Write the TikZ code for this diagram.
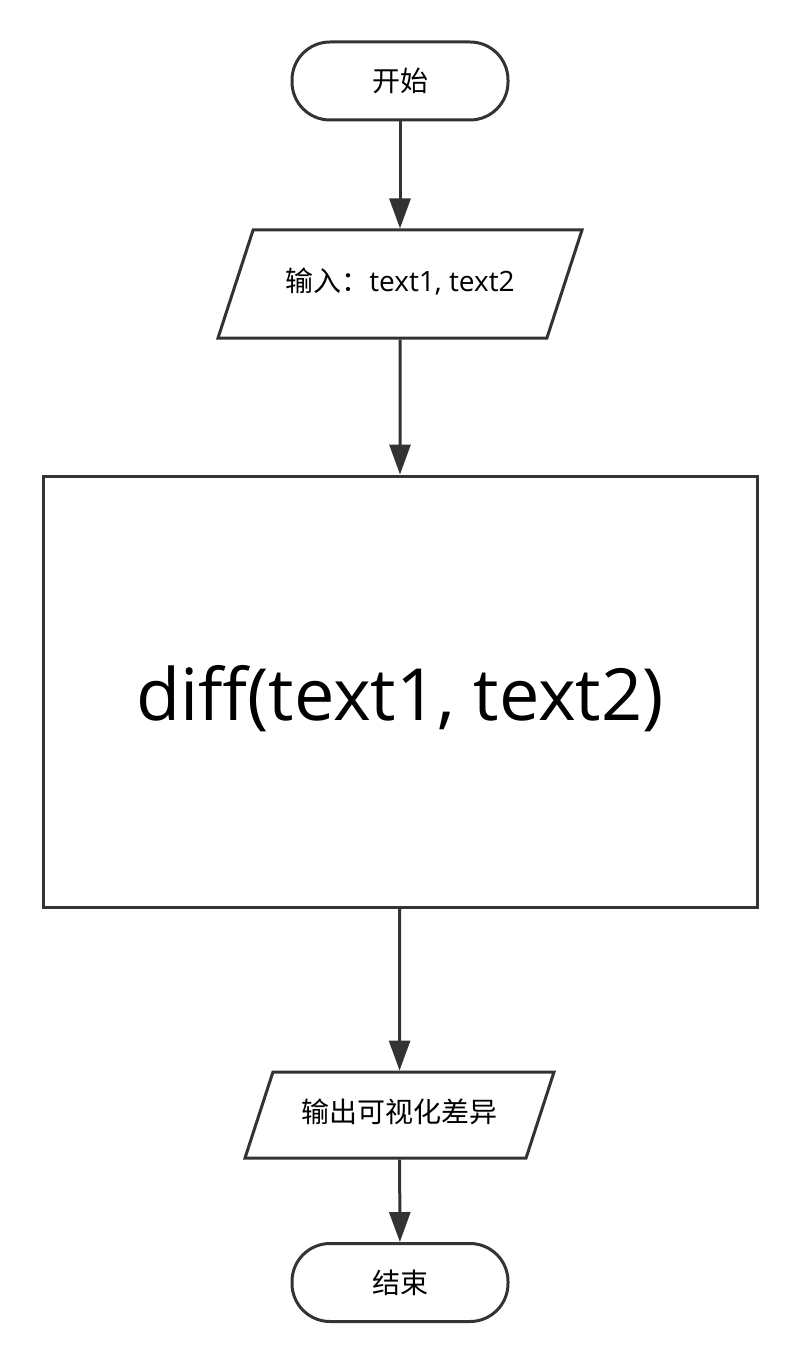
\documentclass[tikz,border=0pt]{standalone}
\usepackage{fontspec}
\setmainfont{Open Sans}
\newfontfamily\cjk{Noto Sans CJK SC}
\usetikzlibrary{arrows.meta,shapes.geometric}
\definecolor{linegray}{HTML}{333333}
\begin{document}
\begin{tikzpicture}[x=1pt,y=1pt,
    terminal/.style = {draw=linegray, line width=3pt, rectangle, rounded corners=38pt,
      minimum width=216pt, minimum height=78pt, inner sep=0pt, font=\fontsize{28}{30}\selectfont\cjk},
    iobox/.style = {draw=linegray, line width=3pt, trapezium, trapezium left angle=72,
      trapezium right angle=108, trapezium stretches body, inner xsep=0pt,
      text height=20pt, text depth=6pt, font=\fontsize{28}{30}\selectfont},
    procbox/.style = {draw=linegray, line width=3pt, rectangle, inner sep=0pt,
      minimum width=714pt, minimum height=431pt, text height=72pt, text depth=15pt,
      font=\fontsize{72}{80}\selectfont},
    flow/.style = {draw=linegray, line width=3pt, -{Triangle[width=21pt,length=30pt]}}]
  \useasboundingbox (0,0) rectangle (800,-1364);
  \node[terminal] (start) at (400,-81) {开始};
  \node[iobox, inner ysep=41pt, minimum width=364pt] (input) at (400,-284) {{\cjk 输入：}text1, text2};
  \node[procbox] (diff) at (400,-691.5) {diff(text1, text2)};
  \node[iobox, inner ysep=30pt, minimum width=309pt] (output) at (399.5,-1115) {\cjk 输出可视化差异};
  \node[terminal] (stop) at (400,-1282.5) {结束};
  \draw[flow] (start) -- (input);
  \draw[flow] (input) -- (diff);
  \draw[flow] (diff) -- (output);
  \draw[flow] (output) -- (stop);
\end{tikzpicture}
\end{document}
